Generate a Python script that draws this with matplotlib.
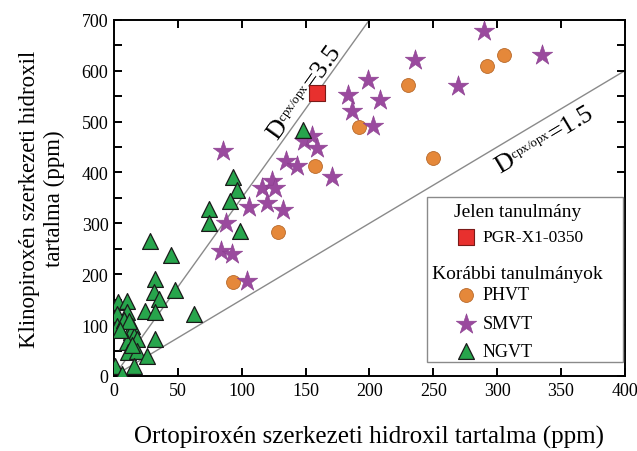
import numpy as np
import matplotlib
matplotlib.use("Agg")
import matplotlib.pyplot as plt
from matplotlib.patches import Rectangle

plt.rcParams['font.family'] = ['Liberation Serif', 'DejaVu Serif']
plt.rcParams['mathtext.fontset'] = 'custom'
plt.rcParams['mathtext.rm'] = 'Liberation Serif'
plt.rcParams['mathtext.it'] = 'Liberation Serif:italic'

# ---- data (opx OH ppm, cpx OH ppm) ----
pgr_x = [159]
pgr_y = [556]

phvt_x = [93, 128, 157, 192, 230, 250, 292, 305]
phvt_y = [185, 282, 412, 489, 572, 428, 609, 631]

smvt_x = [85, 88, 84, 92, 104, 106, 116, 120, 124, 126, 132, 135, 143, 149,
          155, 159, 171, 183, 186, 199, 203, 208, 236, 269, 290, 335]
smvt_y = [442, 300, 246, 240, 187, 333, 369, 339, 384, 369, 326, 422, 412, 462,
          471, 448, 392, 552, 521, 582, 491, 543, 621, 570, 678, 631]

ngvt_x = [148, 93, 96, 91, 74, 74, 99, 63, 28, 45, 32, 31, 48, 35, 24, 32,
          3, 10, 10, 2, 2, 14, 13, 16, 10, 18, 32, 11, 18, 26, 16, 1, 6, 8,
          12, 5, 14]
ngvt_y = [483, 392, 365, 343, 329, 300, 284, 122, 266, 237, 191, 166, 168, 152,
          128, 126, 146, 148, 126, 122, 99, 99, 87, 79, 67, 73, 73, 47, 49, 40,
          20, 20, 4, 110, 108, 90, 60]

d_values = [3.5, 1.5]
line_end_x = [200, 400]

xlim = (0, 400)
ylim = (0, 700)

# ---- figure ----
fig = plt.figure(figsize=(6.37, 4.52), dpi=100)
ax = fig.add_axes([0.179, 0.166, 0.802, 0.788])
ax.set_xlim(*xlim)
ax.set_ylim(*ylim)

line_col = '#8a8a8a'
for d, xe in zip(d_values, line_end_x):
    ax.plot([0, xe], [0, d * xe], color=line_col, lw=1.0, zorder=1)

ax.scatter(phvt_x, phvt_y, s=100, marker='o', color='#E5883A',
           edgecolor='#B86A2C', linewidth=0.6, zorder=3)
ax.scatter(smvt_x, smvt_y, s=240, marker='*', color='#9A4A9E',
           edgecolor='#8A3E8E', linewidth=0.4, zorder=4)
ax.scatter(ngvt_x, ngvt_y, s=130, marker='^', color='#27A54C',
           edgecolor='#1a1a1a', linewidth=0.9, zorder=5)
ax.scatter(pgr_x, pgr_y, s=130, marker='s', color='#E8302E',
           edgecolor='#7a1a18', linewidth=0.8, zorder=6)

# line labels rotated along lines
def angle_of(d):
    p0 = ax.transData.transform((0, 0))
    p1 = ax.transData.transform((100, 100 * d))
    return np.degrees(np.arctan2(p1[1] - p0[1], p1[0] - p0[0]))

lab = r'D$^{{}_{\rm cpx/opx}}$=%s'
ax.text(149, 558, lab % '3.5', rotation=angle_of(3.5),
        ha='center', va='center', fontsize=19, zorder=2)
ax.text(337, 464, lab % '1.5', rotation=angle_of(1.5),
        ha='center', va='center', fontsize=19, zorder=2)

# ticks
ax.set_xticks(np.arange(0, 401, 50))
ax.set_yticks(np.arange(0, 701, 100))
ax.set_yticks(np.arange(50, 701, 100), minor=True)
ax.tick_params(which='both', direction='in', top=True, right=True,
               length=6, width=1.4, labelsize=13, pad=4)
for s in ax.spines.values():
    s.set_linewidth(1.4)

ax.set_xlabel('Ortopiroxén szerkezeti hidroxil tartalma (ppm)', fontsize=18,
              labelpad=19)
ax.set_ylabel('Klinopiroxén szerkezeti hidroxil\ntartalma (ppm)', fontsize=16.5,
              labelpad=12, linespacing=1.25)

# legend box (manual)
ax.add_patch(Rectangle((0.613, 0.039), 0.383, 0.464, transform=ax.transAxes,
                       facecolor='white', edgecolor='#8a8a8a', lw=1.0, zorder=7))
tx = 0.722
mx = 0.689
ax.text(0.79, 0.463, 'Jelen tanulmány', transform=ax.transAxes, ha='center',
        va='center', fontsize=14, zorder=8)
ax.scatter([mx], [0.390], s=130, marker='s', color='#E8302E', edgecolor='#7a1a18',
           linewidth=0.8, transform=ax.transAxes, zorder=8, clip_on=False)
ax.text(tx, 0.390, 'PGR-X1-0350', transform=ax.transAxes, ha='left',
        va='center', fontsize=12.5, zorder=8)
ax.text(0.789, 0.287, 'Korábbi tanulmányok', transform=ax.transAxes, ha='center',
        va='center', fontsize=14, zorder=8)
ax.scatter([mx], [0.228], s=100, marker='o', color='#E5883A', edgecolor='#B86A2C',
           linewidth=0.6, transform=ax.transAxes, zorder=8, clip_on=False)
ax.text(tx, 0.228, 'PHVT', transform=ax.transAxes, ha='left', va='center',
        fontsize=13, zorder=8)
ax.scatter([mx], [0.146], s=240, marker='*', color='#9A4A9E', edgecolor='#8A3E8E',
           linewidth=0.4, transform=ax.transAxes, zorder=8, clip_on=False)
ax.text(tx, 0.146, 'SMVT', transform=ax.transAxes, ha='left', va='center',
        fontsize=13, zorder=8)
ax.scatter([mx], [0.070], s=130, marker='^', color='#27A54C', edgecolor='#1a1a1a',
           linewidth=0.9, transform=ax.transAxes, zorder=8, clip_on=False)
ax.text(tx, 0.070, 'NGVT', transform=ax.transAxes, ha='left', va='center',
        fontsize=13, zorder=8)

fig.savefig('out.png', dpi=100)
